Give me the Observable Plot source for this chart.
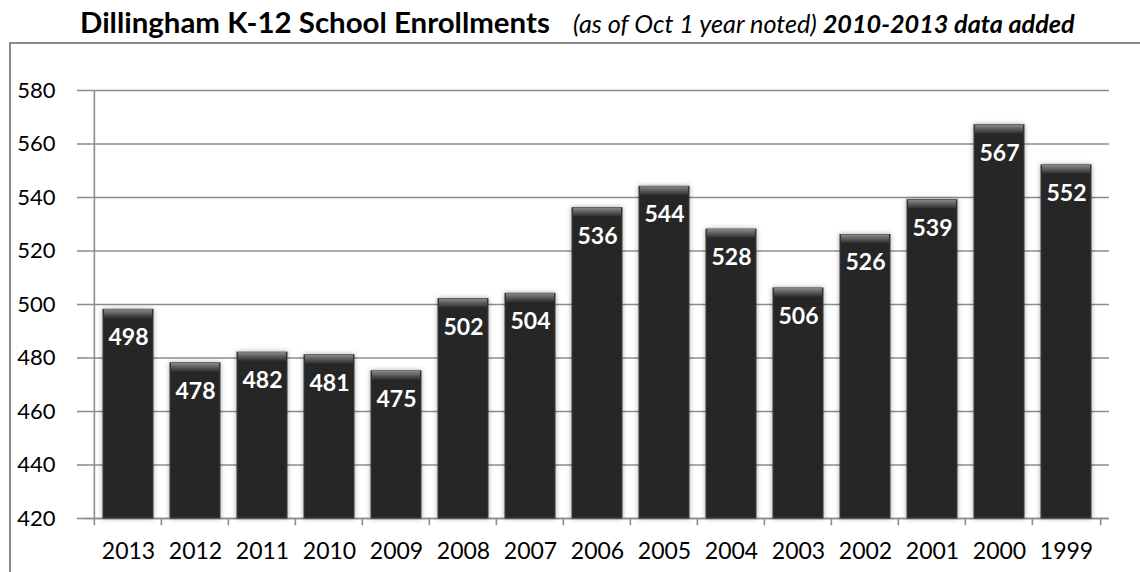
<!DOCTYPE html>
<html><head><meta charset="utf-8">
<script src="https://cdn.jsdelivr.net/npm/d3@7"></script>
<script src="https://cdn.jsdelivr.net/npm/@observablehq/plot@0.6"></script>
<style>
body{margin:0;background:#fff;font-family:Lato,sans-serif;}
#title{height:42px;position:relative;white-space:nowrap;overflow:visible;}
#tline{position:absolute;left:80px;top:0;display:flex;align-items:baseline;line-height:1;color:#000;}
#tline .main{font-weight:bold;font-size:28px;}
#tline .sub{font-size:23px;font-style:italic;margin-left:23px;}
#tline .mark{display:inline-block;width:0;height:0;}
#frame{margin-left:9px;border-left:2px solid #8a8a8a;border-top:2px solid #8a8a8a;height:528px;}
</style></head>
<body>
<div id="title"><div id="tline"><span class="main">Dillingham K-12 School Enrollments</span><span class="sub">(as of Oct 1 year noted) <b>2010-2013 data added</b></span><span class="mark"></span></div></div>
<div id="frame"></div>
<script>
const years = ["2013","2012","2011","2010","2009","2008","2007","2006","2005","2004","2003","2002","2001","2000","1999"];
const enrollments = [498,478,482,481,475,502,504,536,544,528,506,526,539,567,552];
const yTicks = [420,440,460,480,500,520,540,560,580];

const data = years.map((y,i)=>({year:y, value:enrollments[i]}));
const W = 1129, H = 528, mL = 74, mR = 31, mT = 46, mB = 54;
const step = (W - mL - mR) / years.length;
const gridColor = "#8c8c8c";

const chart = Plot.plot({
  width: W, height: H,
  marginLeft: mL, marginRight: mR, marginTop: mT, marginBottom: mB,
  style: {fontFamily: "Lato, sans-serif", background: "#fff", overflow: "visible"},
  x: {domain: years, padding: 0.25, label: null},
  y: {domain: [420,580], ticks: yTicks, label: null},
  marks: [
    Plot.gridY(yTicks, {stroke: gridColor, strokeOpacity: 1, strokeWidth: 1.6}),
    Plot.axisY(yTicks, {tickSize: 8, tickPadding: 22, stroke: gridColor, strokeWidth: 1.6, fontSize: 22, fill: "#000", tickFormat: d=>String(d)}),
    Plot.ruleX(years, {x: d=>d, dx: -step/2, y1: 420, y2: 417.3, stroke: gridColor, strokeWidth: 1.6}),
    Plot.ruleX([years[years.length-1]], {x: d=>d, dx: step/2, y1: 420, y2: 417.3, stroke: gridColor, strokeWidth: 1.6}),
    Plot.axisX({tickSize: 0, tickPadding: 24, fontSize: 23, fill: "#000"}),
    Plot.ruleY([420], {stroke: gridColor, strokeWidth: 1.6}),
    Plot.ruleX([years[0]], {x: d=>d, dx: -step/2, y1: 420, y2: 580, stroke: gridColor, strokeWidth: 1.6}),
    Plot.barY(data, {x: "year", y1: 420, y2: "value", fill: "#272727", stroke: "#3a3a3a", strokeWidth: 1, className: "bars"}),
    Plot.barY(data, {x: "year", y1: "value", y2: "value", insetBottom: -9, insetLeft: 1, insetRight: 1, fill: "url(#bevel)", className: "bevels"}),
    Plot.text(data, {x: "year", y: "value", text: d=>String(d.value), dy: 28, fill: "#fff", fontWeight: "bold", fontSize: 23})
  ]
});

const svg = d3.select(chart);
const defs = svg.insert("defs", ":first-child");
const g = defs.append("linearGradient").attr("id","bevel").attr("x1",0).attr("y1",0).attr("x2",0).attr("y2",1);
g.append("stop").attr("offset","0%").attr("stop-color","#8a8a8a");
g.append("stop").attr("offset","100%").attr("stop-color","#2a2a2a");
const f = defs.append("filter").attr("id","shadow").attr("x","-20%").attr("y","-20%").attr("width","140%").attr("height","140%");
f.append("feDropShadow").attr("dx",0).attr("dy",0).attr("stdDeviation",2.5).attr("flood-color","#000").attr("flood-opacity",0.35);
svg.selectAll("g.bars").attr("filter","url(#shadow)");
document.getElementById("frame").appendChild(chart);

// fit title pieces to the reference extents (main: 80..550, subtitle: 573..1075, baseline y=33)
const tline = document.getElementById("tline");
const mainEl = tline.querySelector(".main"), subEl = tline.querySelector(".sub");
function fit(el, target){
  const w = el.getBoundingClientRect().width;
  const fs = parseFloat(getComputedStyle(el).fontSize);
  el.style.fontSize = (fs * target / w) + "px";
}
fit(mainEl, 470);
fit(subEl, 502);
const gap = 573 - mainEl.getBoundingClientRect().right;
subEl.style.marginLeft = gap + "px";
const base = tline.querySelector(".mark").getBoundingClientRect().top;
tline.style.top = (33 - base) + "px";
</script>
</body></html>
